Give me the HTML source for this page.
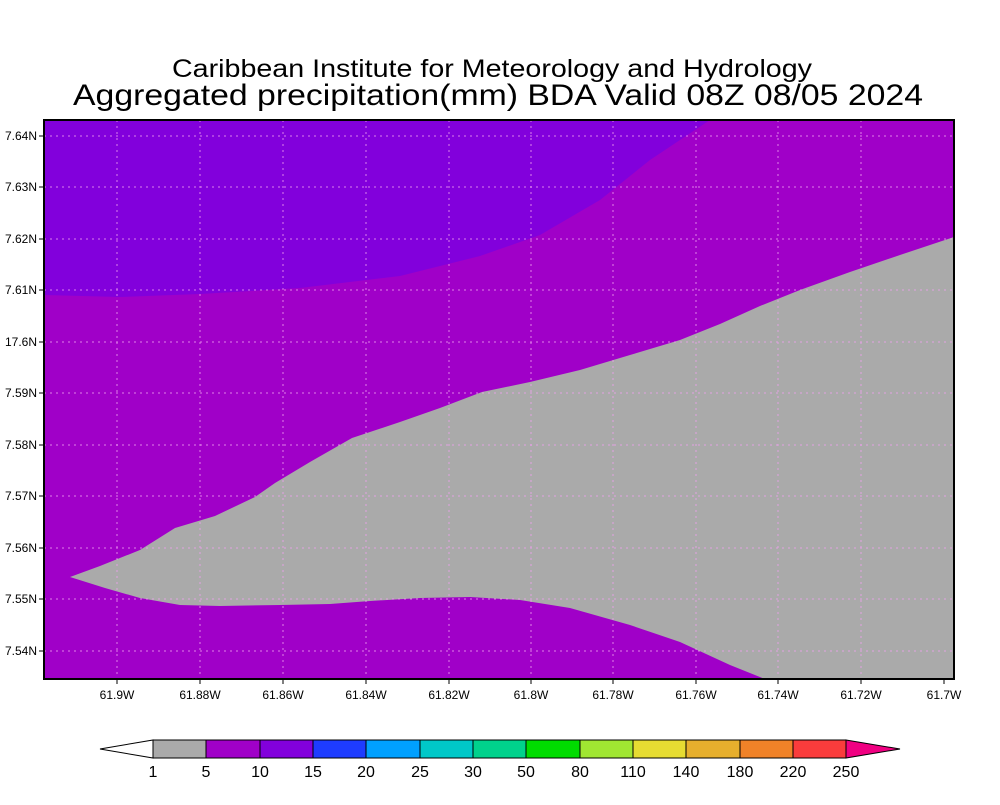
<!DOCTYPE html>
<html><head><style>body{margin:0;background:#fff;width:1000px;height:800px;overflow:hidden}</style></head><body>
<svg width="1000" height="800" xmlns="http://www.w3.org/2000/svg" font-family="Liberation Sans, sans-serif">
<rect width="1000" height="800" fill="#fff"/>
<text x="492" y="77" font-size="25" text-anchor="middle" textLength="640" lengthAdjust="spacingAndGlyphs">Caribbean Institute for Meteorology and Hydrology</text>
<text x="498" y="105" font-size="30" text-anchor="middle" textLength="850" lengthAdjust="spacingAndGlyphs">Aggregated precipitation(mm) BDA Valid 08Z 08/05 2024</text>
<rect x="44" y="120" width="910" height="559" fill="#a000c8"/>
<path d="M44,295 L120,297 L200,294 L300,288 L400,276 L480,256 L540,235 L600,200 L650,160 L710,120 L44,120Z" fill="#8200dc"/>
<path d="M70,577 L100,566 L140,550 L175,528 L215,516 L255,497 L275,483 L310,462 L352,438 L400,422 L440,408 L482,392 L530,382 L580,370 L630,355 L680,340 L720,324 L760,306 L800,290 L850,272 L900,255 L954,237 L954,679 L765,679 L730,665 L680,642 L630,625 L570,608 L520,600 L470,597 L420,598 L370,601 L330,604 L280,605 L220,606 L180,605 L140,598 L105,588Z" fill="#aaaaaa"/>
<g stroke="#f0a0f0" stroke-width="1" stroke-dasharray="2,4" opacity="0.8">
<line x1="117" y1="120" x2="117" y2="679"/><line x1="200" y1="120" x2="200" y2="679"/><line x1="283" y1="120" x2="283" y2="679"/><line x1="366" y1="120" x2="366" y2="679"/><line x1="449" y1="120" x2="449" y2="679"/><line x1="531" y1="120" x2="531" y2="679"/><line x1="613" y1="120" x2="613" y2="679"/><line x1="696" y1="120" x2="696" y2="679"/><line x1="778" y1="120" x2="778" y2="679"/><line x1="861" y1="120" x2="861" y2="679"/>
<line x1="44" y1="136" x2="954" y2="136"/><line x1="44" y1="187" x2="954" y2="187"/><line x1="44" y1="239" x2="954" y2="239"/><line x1="44" y1="290" x2="954" y2="290"/><line x1="44" y1="342" x2="954" y2="342"/><line x1="44" y1="393" x2="954" y2="393"/><line x1="44" y1="445" x2="954" y2="445"/><line x1="44" y1="496" x2="954" y2="496"/><line x1="44" y1="548" x2="954" y2="548"/><line x1="44" y1="599" x2="954" y2="599"/><line x1="44" y1="651" x2="954" y2="651"/>
</g>
<rect x="44" y="120" width="910" height="559" fill="none" stroke="#000" stroke-width="2"/>
<g stroke="#000" stroke-width="1">
<line x1="39" y1="136" x2="44" y2="136"/><line x1="39" y1="187" x2="44" y2="187"/><line x1="39" y1="239" x2="44" y2="239"/><line x1="39" y1="290" x2="44" y2="290"/><line x1="39" y1="342" x2="44" y2="342"/><line x1="39" y1="393" x2="44" y2="393"/><line x1="39" y1="445" x2="44" y2="445"/><line x1="39" y1="496" x2="44" y2="496"/><line x1="39" y1="548" x2="44" y2="548"/><line x1="39" y1="599" x2="44" y2="599"/><line x1="39" y1="651" x2="44" y2="651"/>
<line x1="117" y1="679" x2="117" y2="684"/><line x1="200" y1="679" x2="200" y2="684"/><line x1="283" y1="679" x2="283" y2="684"/><line x1="366" y1="679" x2="366" y2="684"/><line x1="449" y1="679" x2="449" y2="684"/><line x1="531" y1="679" x2="531" y2="684"/><line x1="613" y1="679" x2="613" y2="684"/><line x1="696" y1="679" x2="696" y2="684"/><line x1="778" y1="679" x2="778" y2="684"/><line x1="861" y1="679" x2="861" y2="684"/><line x1="944" y1="679" x2="944" y2="684"/>
</g>
<g font-size="12" text-anchor="end">
<text x="37" y="140">7.64N</text><text x="37" y="191">7.63N</text><text x="37" y="243">7.62N</text><text x="37" y="294">7.61N</text><text x="37" y="346">17.6N</text><text x="37" y="397">7.59N</text><text x="37" y="449">7.58N</text><text x="37" y="500">7.57N</text><text x="37" y="552">7.56N</text><text x="37" y="603">7.55N</text><text x="37" y="655">7.54N</text>
</g>
<g font-size="12" text-anchor="middle">
<text x="117" y="699">61.9W</text><text x="200" y="699">61.88W</text><text x="283" y="699">61.86W</text><text x="366" y="699">61.84W</text><text x="449" y="699">61.82W</text><text x="531" y="699">61.8W</text><text x="613" y="699">61.78W</text><text x="696" y="699">61.76W</text><text x="778" y="699">61.74W</text><text x="861" y="699">61.72W</text><text x="944" y="699">61.7W</text>
</g>
<g stroke="#000" stroke-width="1">
<polygon points="100,749 153,740 153,758" fill="#fff"/>
<rect x="153" y="740" width="53" height="18" fill="#aaaaaa"/>
<rect x="206" y="740" width="54" height="18" fill="#a000c8"/>
<rect x="260" y="740" width="53" height="18" fill="#8200dc"/>
<rect x="313" y="740" width="53" height="18" fill="#1e3cff"/>
<rect x="366" y="740" width="54" height="18" fill="#00a0ff"/>
<rect x="420" y="740" width="53" height="18" fill="#00c8c8"/>
<rect x="473" y="740" width="53" height="18" fill="#00d28c"/>
<rect x="526" y="740" width="54" height="18" fill="#00dc00"/>
<rect x="580" y="740" width="53" height="18" fill="#a0e632"/>
<rect x="633" y="740" width="53" height="18" fill="#e6dc32"/>
<rect x="686" y="740" width="54" height="18" fill="#e6af2d"/>
<rect x="740" y="740" width="53" height="18" fill="#f08228"/>
<rect x="793" y="740" width="53" height="18" fill="#fa3c3c"/>
<polygon points="846,740 900,749 846,758" fill="#f00082"/>
</g>
<g font-size="16" text-anchor="middle">
<text x="153" y="777">1</text><text x="206" y="777">5</text><text x="260" y="777">10</text><text x="313" y="777">15</text><text x="366" y="777">20</text><text x="420" y="777">25</text><text x="473" y="777">30</text><text x="526" y="777">50</text><text x="580" y="777">80</text><text x="633" y="777">110</text><text x="686" y="777">140</text><text x="740" y="777">180</text><text x="793" y="777">220</text><text x="846" y="777">250</text>
</g>
</svg>
</body></html>
